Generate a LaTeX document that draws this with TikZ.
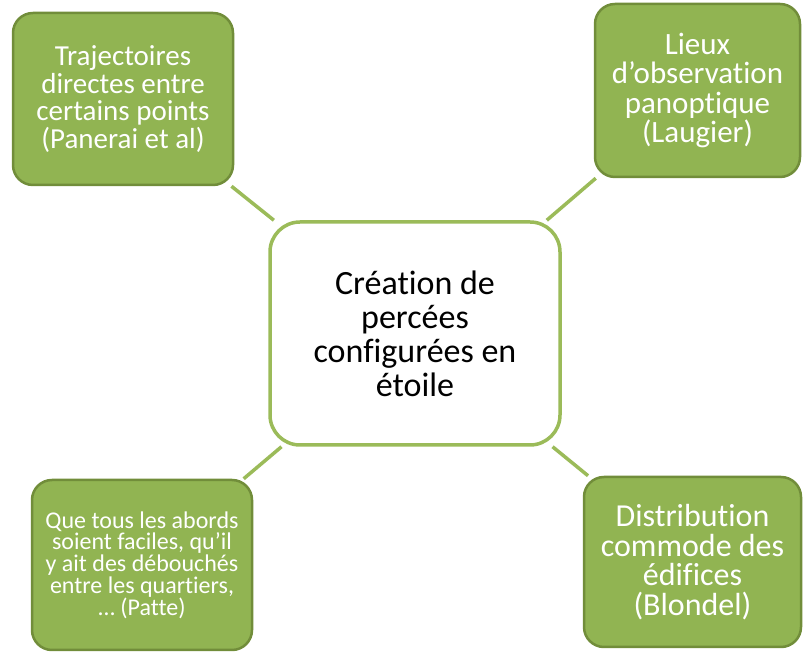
\documentclass[tikz,border=0pt]{standalone}
\usepackage{fontspec}
\setmainfont{Carlito}[Ligatures=CommonOff]
\definecolor{vertclair}{RGB}{155,187,89}
\definecolor{vertfond}{RGB}{145,180,82}
\definecolor{vertbord}{RGB}{113,141,58}
\begin{document}
\begin{tikzpicture}[x=1pt,y=1pt]
			% Styles
			\tikzstyle{lien}=[-,line width=3.5pt,vertclair]
			\tikzstyle{centre}=[draw=vertclair,line width=3.5pt,fill=white,rounded corners=30pt,align=center,text=black,font=\fontsize{34}{34}\selectfont]
			\tikzstyle{bloc}=[draw=vertbord,line width=2.5pt,fill=vertfond,rounded corners=20pt,align=center,text=white,font=\fontsize{31}{29.5}\selectfont]
			\tikzstyle{petitbloc}=[bloc,font=\fontsize{24}{21.7}\selectfont]
			% Dimensions
			\def\LargeurPage{803}
			\def\HauteurPage{653}
			\useasboundingbox (0,0) rectangle (\LargeurPage,\HauteurPage);
			% Noeuds
			\node[centre,minimum width=290,minimum height=223] (C) at (415,319.5) {Création de\\percées\\configurées en\\étoile};
			\node[bloc,font=\fontsize{29}{27.5}\selectfont,minimum width=220,minimum height=172] (HG) at (123,554) {Trajectoires\\directes entre\\certains points\\(Panerai et al)};
			\node[bloc,minimum width=205,minimum height=173] (HD) at (697.5,562.5) {Lieux\\d’observation\\panoptique\\(Laugier)};
			\node[petitbloc,minimum width=220,minimum height=170] (BG) at (142,88) {Que tous les abords\\soient faciles, qu’il\\y ait des débouchés\\entre les quartiers,\\… (Patte)};
			\node[bloc,font=\fontsize{32}{29.5}\selectfont,minimum width=217,minimum height=170] (BD) at (692.5,91) {Distribution\\commode des\\édifices\\(Blondel)};
			% Liens
			\draw[lien] (C)--(HG);
			\draw[lien] (C)--(HD);
			\draw[lien] (C)--(BG);
			\draw[lien] (C)--(BD);
		\end{tikzpicture}
\end{document}
